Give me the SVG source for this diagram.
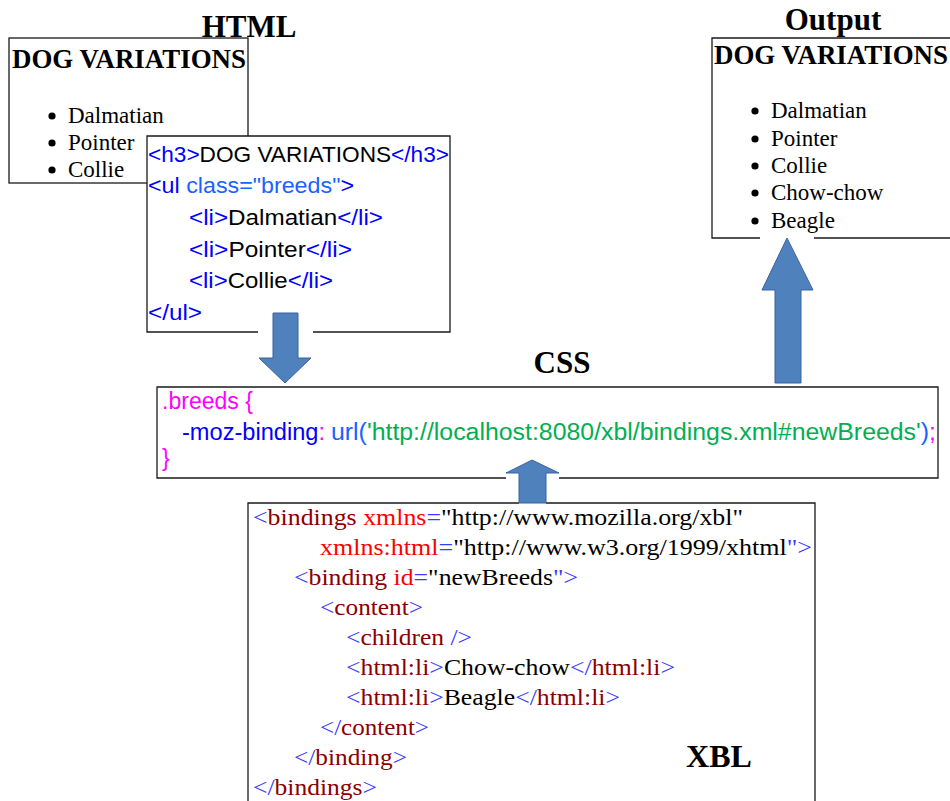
<svg xmlns="http://www.w3.org/2000/svg" width="950" height="801" viewBox="0 0 950 801">
  <defs>
    <style>
      .title { font-family: "Liberation Serif", "Times New Roman", serif; font-weight: bold; font-size: 31px; fill: #000; text-anchor: middle; }
      .h3 { font-family: "Liberation Serif", "Times New Roman", serif; font-weight: bold; font-size: 27px; fill: #000; }
      .li { font-family: "Liberation Serif", "Times New Roman", serif; font-size: 23px; fill: #000; }
      .code { font-family: "Liberation Sans", Arial, sans-serif; font-size: 22.5px; }
      .css { font-family: "Liberation Sans", Arial, sans-serif; font-size: 23px; }
      .xbl { font-family: "Liberation Serif", "Times New Roman", serif; font-size: 24px; }
      .box { fill: #fff; stroke: none; }
      .edge { fill: none; stroke: #1a1a1a; stroke-width: 1.3; }
      .arrow { fill: #4f81bd; stroke: #3a62a0; stroke-width: 1; }
      .tag { fill: #0000ff; }
      .attr { fill: #1a62ff; }
      .txt { fill: #000; }
      .mag { fill: #ff00ff; }
      .grn { fill: #00b050; }
      .xb { fill: #3a3aff; }
      .xn { fill: #8b0000; }
      .xa { fill: #ff0000; }
    </style>
  </defs>

  <!-- rendered HTML page -->
  <g id="html-render">
    <text class="title" x="249" y="37">HTML</text>
    <rect class="box" x="9" y="38" width="239" height="145"/>
    <rect class="edge" x="9" y="38" width="239" height="145"/>
    <text class="h3" x="12" y="68" textLength="234" lengthAdjust="spacingAndGlyphs">DOG VARIATIONS</text>
    <circle cx="52" cy="116" r="3.6"/>
    <text class="li" x="68" y="123">Dalmatian</text>
    <circle cx="52" cy="143" r="3.6"/>
    <text class="li" x="68" y="150">Pointer</text>
    <circle cx="52" cy="170" r="3.6"/>
    <text class="li" x="68" y="177">Collie</text>
  </g>

  <!-- HTML source -->
  <g id="html-source">
    <rect class="box" x="147" y="136" width="303" height="196"/>
    <path class="edge" d="M258,332 H147 V136 H450 V332 H313"/>
    <text class="code" x="148" y="162" textLength="301" lengthAdjust="spacingAndGlyphs"><tspan class="tag">&lt;h3&gt;</tspan><tspan class="txt">DOG VARIATIONS</tspan><tspan class="tag">&lt;/h3&gt;</tspan></text>
    <text class="code" x="148" y="193" textLength="206" lengthAdjust="spacingAndGlyphs"><tspan class="tag">&lt;ul</tspan><tspan class="attr"> class="breeds"</tspan><tspan class="tag">&gt;</tspan></text>
    <text class="code" x="189" y="225" textLength="194" lengthAdjust="spacingAndGlyphs"><tspan class="tag">&lt;li&gt;</tspan><tspan class="txt">Dalmatian</tspan><tspan class="tag">&lt;/li&gt;</tspan></text>
    <text class="code" x="189" y="257" textLength="163" lengthAdjust="spacingAndGlyphs"><tspan class="tag">&lt;li&gt;</tspan><tspan class="txt">Pointer</tspan><tspan class="tag">&lt;/li&gt;</tspan></text>
    <text class="code" x="189" y="288" textLength="144" lengthAdjust="spacingAndGlyphs"><tspan class="tag">&lt;li&gt;</tspan><tspan class="txt">Collie</tspan><tspan class="tag">&lt;/li&gt;</tspan></text>
    <text class="code tag" x="148" y="320" textLength="54" lengthAdjust="spacingAndGlyphs">&lt;/ul&gt;</text>
  </g>

  <!-- CSS rule -->
  <g id="css">
    <text class="title" x="562" y="373">CSS</text>
    <rect class="box" x="157" y="387" width="781" height="91"/>
    <path class="edge" d="M506,478 H157 V387 H938 V478 H559"/>
    <text class="css mag" x="162" y="409" textLength="91" lengthAdjust="spacingAndGlyphs">.breeds {</text>
    <text class="css" x="182" y="440" textLength="143" lengthAdjust="spacingAndGlyphs"><tspan class="tag">-moz-binding</tspan><tspan class="mag">:</tspan></text>
    <text class="css" x="331" y="440" textLength="605" lengthAdjust="spacingAndGlyphs"><tspan class="attr">url(</tspan><tspan class="grn">'http://localhost:8080/xbl/bindings.xml#newBreeds'</tspan><tspan class="attr">)</tspan><tspan class="mag">;</tspan></text>
    <text class="css mag" x="162" y="466">}</text>
  </g>

  <!-- resulting output -->
  <g id="output">
    <text class="title" x="833" y="30">Output</text>
    <rect class="box" x="712" y="38" width="240" height="200"/>
    <path class="edge" d="M760,238 H712 V38 H952 M814,238 H952"/>
    <text class="h3" x="714" y="64" textLength="234" lengthAdjust="spacingAndGlyphs">DOG VARIATIONS</text>
    <circle cx="755" cy="111" r="3.6"/>
    <text class="li" x="771" y="118">Dalmatian</text>
    <circle cx="755" cy="139" r="3.6"/>
    <text class="li" x="771" y="146">Pointer</text>
    <circle cx="755" cy="166" r="3.6"/>
    <text class="li" x="771" y="173">Collie</text>
    <circle cx="755" cy="193" r="3.6"/>
    <text class="li" x="771" y="200">Chow-chow</text>
    <circle cx="755" cy="221" r="3.6"/>
    <text class="li" x="771" y="228">Beagle</text>
  </g>

  <!-- XBL binding -->
  <g id="xbl">
    <rect class="box" x="248" y="503" width="567" height="300"/>
    <path class="edge" d="M248,803 V503 H519 M546,503 H815 V803"/>
    <text class="xbl" x="253" y="525" textLength="490" lengthAdjust="spacingAndGlyphs"><tspan class="xb">&lt;</tspan><tspan class="xn">bindings</tspan><tspan class="xa"> xmlns</tspan><tspan class="xb">=</tspan><tspan class="txt">"http://www.mozilla.org/xbl"</tspan></text>
    <text class="xbl" x="320" y="555" textLength="492" lengthAdjust="spacingAndGlyphs"><tspan class="xa">xmlns:html</tspan><tspan class="xb">=</tspan><tspan class="txt">"http://www.w3.org/1999/xhtml</tspan><tspan class="xb">"&gt;</tspan></text>
    <text class="xbl" x="294" y="585" textLength="284" lengthAdjust="spacingAndGlyphs"><tspan class="xb">&lt;</tspan><tspan class="xn">binding</tspan><tspan class="xa"> id</tspan><tspan class="xb">=</tspan><tspan class="txt">"newBreeds</tspan><tspan class="xb">"&gt;</tspan></text>
    <text class="xbl" x="320" y="615" textLength="103" lengthAdjust="spacingAndGlyphs"><tspan class="xb">&lt;</tspan><tspan class="xn">content</tspan><tspan class="xb">&gt;</tspan></text>
    <text class="xbl" x="346" y="645" textLength="126" lengthAdjust="spacingAndGlyphs"><tspan class="xb">&lt;</tspan><tspan class="xn">children</tspan><tspan class="xb"> /&gt;</tspan></text>
    <text class="xbl" x="346" y="675" textLength="329" lengthAdjust="spacingAndGlyphs"><tspan class="xb">&lt;</tspan><tspan class="xn">html:li</tspan><tspan class="xb">&gt;</tspan><tspan class="txt">Chow-chow</tspan><tspan class="xb">&lt;/</tspan><tspan class="xn">html:li</tspan><tspan class="xb">&gt;</tspan></text>
    <text class="xbl" x="346" y="705" textLength="274" lengthAdjust="spacingAndGlyphs"><tspan class="xb">&lt;</tspan><tspan class="xn">html:li</tspan><tspan class="xb">&gt;</tspan><tspan class="txt">Beagle</tspan><tspan class="xb">&lt;/</tspan><tspan class="xn">html:li</tspan><tspan class="xb">&gt;</tspan></text>
    <text class="xbl" x="320" y="735" textLength="109" lengthAdjust="spacingAndGlyphs"><tspan class="xb">&lt;/</tspan><tspan class="xn">content</tspan><tspan class="xb">&gt;</tspan></text>
    <text class="xbl" x="294" y="765" textLength="113" lengthAdjust="spacingAndGlyphs"><tspan class="xb">&lt;/</tspan><tspan class="xn">binding</tspan><tspan class="xb">&gt;</tspan></text>
    <text class="xbl" x="253" y="795" textLength="124" lengthAdjust="spacingAndGlyphs"><tspan class="xb">&lt;/</tspan><tspan class="xn">bindings</tspan><tspan class="xb">&gt;</tspan></text>
    <text class="title" x="719" y="767" style="font-size:32px">XBL</text>
  </g>

  <!-- block arrows -->
  <g id="connectors">
    <polygon class="arrow" points="273,313 298,313 298,358 311,358 285,383 259,358 273,358"/>
    <polygon class="arrow" points="532,460 559,473 546,473 546,503 519,503 519,473 506,473"/>
    <polygon class="arrow" points="787,238 813,290 801,290 801,383 775,383 775,290 762,290"/>
  </g>
</svg>
